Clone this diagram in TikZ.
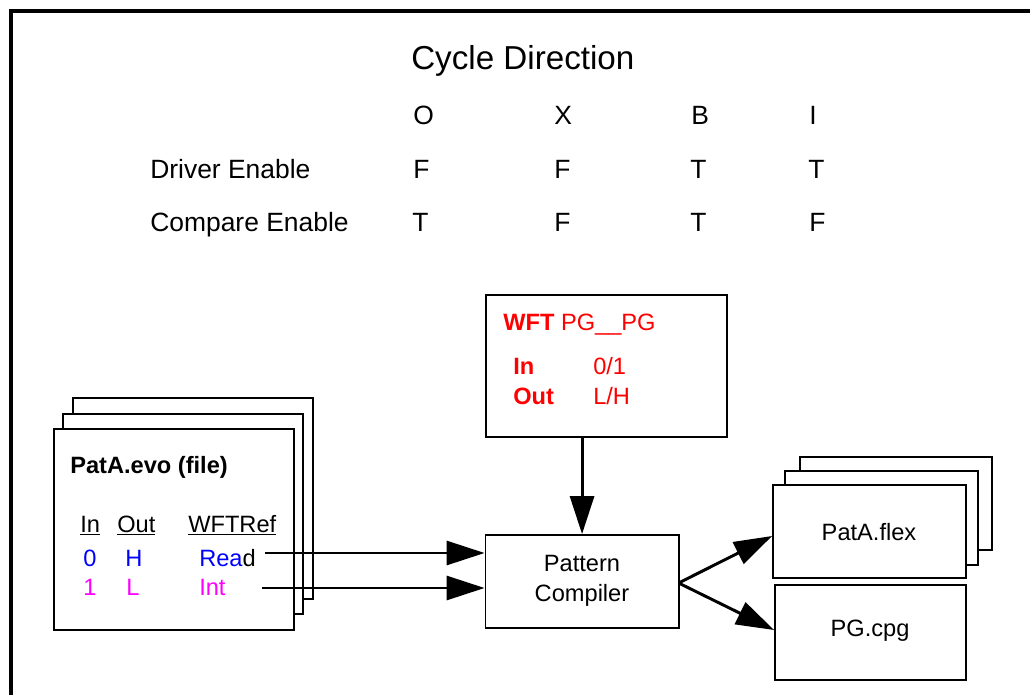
\documentclass[tikz,border=0pt]{standalone}
\usepackage{fontspec}
\setmainfont{Liberation Sans}
\usetikzlibrary{arrows.meta,fit}

\newcommand\fsTitle{\fontsize{23.6}{28}\selectfont}
\newcommand\fsTable{\fontsize{18.8}{22}\selectfont}
\newcommand\fsBox{\fontsize{16.8}{21.3}\selectfont}

\definecolor{inblue}{RGB}{0,0,255}
\definecolor{intmag}{RGB}{255,0,255}
\definecolor{wftred}{RGB}{255,0,0}

\begin{document}
\begin{tikzpicture}[x=0.025cm,y=-0.025cm,
  boxline/.style={draw=black,line width=1.3pt,fill=white,inner sep=0pt},
  conn/.style={line width=2.1pt,-{Triangle[length=0.95cm,width=0.6cm]}},
  tab/.style={inner sep=0pt,anchor=base west,font=\fsTable},
  btxt/.style={inner sep=0pt,anchor=base west,font=\fsBox},
  ctxt/.style={inner sep=0pt,anchor=base,font=\fsBox},
  frame/.style={draw=black,line width=2.2pt}
]
\useasboundingbox (0,0) rectangle (1030,695);
\clip (0,0) rectangle (1030,695);

% page frame, running off the right and bottom edges
\draw[frame] (11,11) rectangle (1060,720);

% cycle direction table
\node[inner sep=0pt,anchor=base west,font=\fsTitle] (title) at (411,70) {Cycle Direction};
\node[tab] (hO) at (413,125) {O};
\node[tab] (hX) at (554,125) {X};
\node[tab] (hB) at (691,125) {B};
\node[tab] (hI) at (809,125) {I};
\node[tab] (drv) at (150,179) {Driver Enable};
\node[tab] (dO) at (413,179) {F};
\node[tab] (dX) at (554,179) {F};
\node[tab] (dB) at (690,179) {T};
\node[tab] (dI) at (808,179) {T};
\node[tab] (cmp) at (150,231) {Compare Enable};
\node[tab] (cO) at (412,231) {T};
\node[tab] (cX) at (554,231) {F};
\node[tab] (cB) at (690,231) {T};
\node[tab] (cI) at (809,231) {F};

% waveform table box
\node[boxline,fit={(486,295) (727,437)}] (wft) {};
\node[btxt,text=wftred] (wftname) at (503,330) {\textbf{WFT} PG\_\_PG};
\node[btxt,text=wftred,font=\fsBox\bfseries] (wftin) at (513,374) {In};
\node[btxt,text=wftred] (wftinv) at (593,374) {0/1};
\node[btxt,text=wftred,font=\fsBox\bfseries] (wftout) at (513,404) {Out};
\node[btxt,text=wftred] (wftoutv) at (593,404) {L/H};

% pattern source files (stacked)
\node[boxline,fit={(73,398) (313,599)}] (evo3) {};
\node[boxline,fit={(63,414) (303,614)}] (evo2) {};
\node[boxline,fit={(54,429) (294,630)}] (evo) {};
\node[btxt,font=\fsBox\bfseries] (evoname) at (70,473) {PatA.evo (file)};
\node[btxt] (colin) at (80,532) {\underline{In}};
\node[btxt] (colout) at (117,532) {\underline{Out}};
\node[btxt] (colref) at (188,532) {\underline{WFTRef}};
\node[btxt,text=inblue] (r0in) at (83,566) {0};
\node[btxt,text=inblue] (r0out) at (125,566) {H};
\node[btxt] (r0ref) at (199,566) {\textcolor{inblue}{Rea}d};
\node[btxt,text=intmag] (r1in) at (83,595) {1};
\node[btxt,text=intmag] (r1out) at (126,595) {L};
\node[btxt,text=intmag] (r1ref) at (199,595) {Int};

% compiler
\node[boxline,fit={(485.5,535) (678.6,628)}] (pc) {};
\node[ctxt] (pcl1) at (582,571) {Pattern};
\node[ctxt] (pcl2) at (582,601) {Compiler};

% outputs
\node[boxline,fit={(800,457) (992,550)}] (flex3) {};
\node[boxline,fit={(785,471) (978,565)}] (flex2) {};
\node[boxline,fit={(773,485) (966,578)}] (flex) {};
\node[ctxt] (flexl) at (869,540) {PatA.flex};
\node[boxline,fit={(775,585) (966,680)}] (cpg) {};
\node[ctxt] (cpgl) at (870,636) {PG.cpg};

% connectors
\coordinate (readout) at (265,553);
\coordinate (intout) at (262,588);
\coordinate (pcout) at (678.6,583);
\draw[conn] (readout) -- (readout -| pc.west);
\draw[conn] (intout) -- (intout -| pc.west);
\draw[conn] (pc.north |- wft.south) -- (pc.north);
\draw[conn] (pcout) -- (flex.west |- 0,536);
\draw[conn] (pcout) -- (cpg.west |- 0,630);
\end{tikzpicture}
\end{document}
